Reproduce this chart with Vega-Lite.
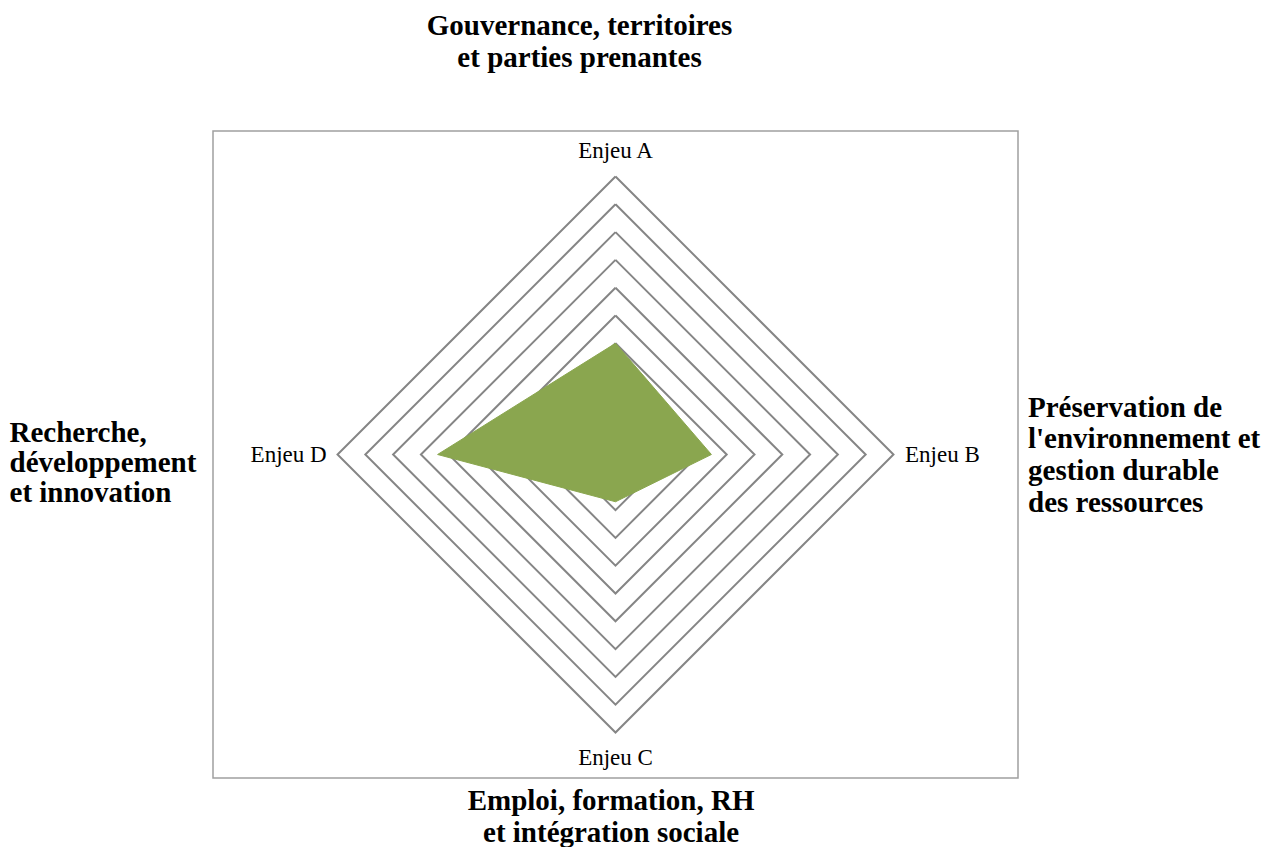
{
  "$schema": "https://vega.github.io/schema/vega-lite/v6.json",
  "width": 805,
  "height": 647,
  "autosize": {"type": "none"},
  "padding": {"left": 213, "top": 131, "right": 251, "bottom": 69},
  "background": "white",
  "config": {
    "view": {"stroke": "#a0a0a0", "strokeWidth": 1.5},
    "font": "Liberation Serif"
  },
  "datasets": {
    "enjeux": [
      {"enjeu": "Enjeu A", "k": 0, "score": 4.0, "theme": "Gouvernance, territoires\net parties prenantes"},
      {"enjeu": "Enjeu B", "k": 1, "score": 3.45, "theme": "Préservation de\nl'environnement et\ngestion durable\ndes ressources"},
      {"enjeu": "Enjeu C", "k": 2, "score": 1.7, "theme": "Emploi, formation, RH\net intégration sociale"},
      {"enjeu": "Enjeu D", "k": 3, "score": 6.4, "theme": "Recherche,\ndéveloppement\net innovation"}
    ],
    "rings": [
      {"ring": 1}, {"ring": 2}, {"ring": 3}, {"ring": 4}, {"ring": 5},
      {"ring": 6}, {"ring": 7}, {"ring": 8}, {"ring": 9}, {"ring": 10}
    ]
  },
  "encoding": {
    "x": {"field": "x", "type": "quantitative", "scale": {"domain": [-14.48, 14.48], "nice": false, "zero": false}, "axis": null},
    "y": {"field": "y", "type": "quantitative", "scale": {"domain": [-11.637, 11.637], "nice": false, "zero": false}, "axis": null}
  },
  "layer": [
    {
      "data": {"name": "rings"},
      "transform": [
        {"calculate": "[0,1,2,3,4]", "as": "k"},
        {"flatten": ["k"]},
        {"calculate": "datum.ring * sin(datum.k * PI / 2)", "as": "x"},
        {"calculate": "datum.ring * cos(datum.k * PI / 2)", "as": "y"}
      ],
      "mark": {"type": "line", "stroke": "#858585", "strokeWidth": 2, "clip": false},
      "encoding": {
        "detail": {"field": "ring", "type": "nominal"},
        "order": {"field": "k", "type": "quantitative"}
      }
    },
    {
      "data": {"name": "enjeux"},
      "transform": [
        {"calculate": "datum.score * sin(datum.k * PI / 2)", "as": "x"},
        {"calculate": "datum.score * cos(datum.k * PI / 2)", "as": "y"}
      ],
      "mark": {"type": "line", "interpolate": "linear-closed", "fill": "#8aa64f", "stroke": "#8aa64f", "strokeWidth": 1},
      "encoding": {
        "order": {"field": "k", "type": "quantitative"}
      }
    },
    {
      "data": {"name": "enjeux"},
      "transform": [
        {"calculate": "11.76 * sin(datum.k * PI / 2)", "as": "x"},
        {"calculate": "10.93 * cos(datum.k * PI / 2)", "as": "y"}
      ],
      "mark": {"type": "text", "align": "center", "baseline": "middle", "fontSize": 23, "color": "#000000"},
      "encoding": {
        "text": {"field": "enjeu", "type": "nominal"}
      }
    },
    {
      "data": {"name": "enjeux"},
      "transform": [
        {"filter": "datum.k == 0"},
        {"calculate": "-1.295", "as": "x"},
        {"calculate": "15.09", "as": "y"}
      ],
      "mark": {"type": "text", "align": "center", "baseline": "alphabetic", "fontSize": 29, "fontWeight": "bold", "lineBreak": "\n", "lineHeight": 32, "color": "#000000", "clip": false},
      "encoding": {
        "text": {"field": "theme", "type": "nominal"}
      }
    },
    {
      "data": {"name": "enjeux"},
      "transform": [
        {"filter": "datum.k == 1"},
        {"calculate": "14.84", "as": "x"},
        {"calculate": "1.36", "as": "y"}
      ],
      "mark": {"type": "text", "align": "left", "baseline": "alphabetic", "fontSize": 29, "fontWeight": "bold", "lineBreak": "\n", "lineHeight": 31.7, "color": "#000000", "clip": false},
      "encoding": {
        "text": {"field": "theme", "type": "nominal"}
      }
    },
    {
      "data": {"name": "enjeux"},
      "transform": [
        {"filter": "datum.k == 2"},
        {"calculate": "-0.16", "as": "x"},
        {"calculate": "-12.79", "as": "y"}
      ],
      "mark": {"type": "text", "align": "center", "baseline": "alphabetic", "fontSize": 29, "fontWeight": "bold", "lineBreak": "\n", "lineHeight": 31.7, "color": "#000000", "clip": false},
      "encoding": {
        "text": {"field": "theme", "type": "nominal"}
      }
    },
    {
      "data": {"name": "enjeux"},
      "transform": [
        {"filter": "datum.k == 3"},
        {"calculate": "-21.8", "as": "x"},
        {"calculate": "0.45", "as": "y"}
      ],
      "mark": {"type": "text", "align": "left", "baseline": "alphabetic", "fontSize": 29, "fontWeight": "bold", "lineBreak": "\n", "lineHeight": 30, "color": "#000000", "clip": false},
      "encoding": {
        "text": {"field": "theme", "type": "nominal"}
      }
    }
  ]
}
